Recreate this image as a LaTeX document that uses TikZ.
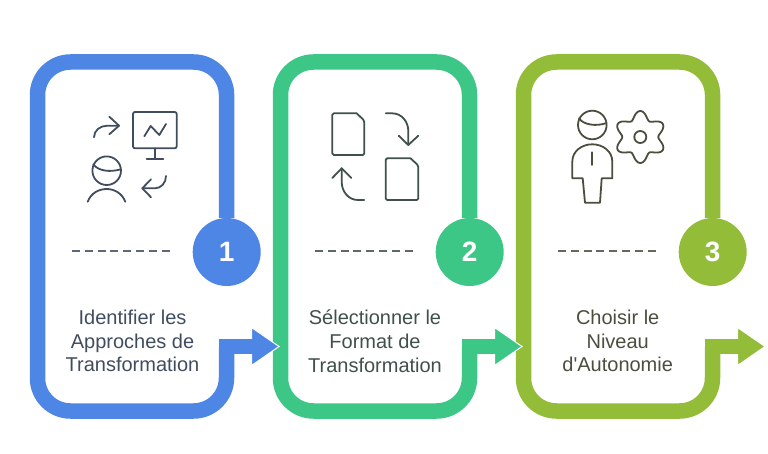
\documentclass[tikz,border=0pt]{standalone}
\usepackage{fontspec}
\setmainfont[Ligatures = TeXOff]{Liberation Sans}
\definecolor{stepblue}{HTML}{4D86E5}
\definecolor{stepgreen}{HTML}{3DC787}
\definecolor{stepolive}{HTML}{93BC39}
\definecolor{inkblue}{HTML}{414D5E}
\definecolor{inkgreen}{HTML}{40504B}
\definecolor{inkolive}{HTML}{4A4E3F}
\tikzset{
  ring/.style = {line width = 15.5pt, rounded corners = 33pt},
  badge/.style = {circle, minimum size = 68pt, inner sep = 0pt, text = white, font = \fontsize{28}{28}\selectfont\bfseries},
  arrowhead/.style = {draw = white, line width = 1pt},
  dashrule/.style = {line width = 1.5pt, dash pattern = on 8pt off 4.8pt},
  steptext/.style = {align = center, font = \fontsize{20}{23.8}\selectfont},
  iconline/.style = {line width = 1.8pt, line cap = round, line join = round}
}
\begin{document}
\begin{tikzpicture}[x = 1pt, y = -1pt]
\useasboundingbox (0, 0) rectangle (768, 454);
% panel 3
\node [badge, fill = stepolive] (numc) at (712.7, 252) {3};
\fill [arrowhead, fill = stepolive] (737.5, 327.5) -- (765, 346.5) -- (737.5, 365.5) -- cycle;
\draw [ring, color = stepolive] (numc.north) -- (712.5, 62) -- (523.5, 62) -- (523.5, 411) -- (712.5, 411) -- (712.5, 346.5);
\fill [color = stepolive] (704.75, 338.75) rectangle (739, 354.25);
% panel 2
\node [badge, fill = stepgreen] (numb) at (469.7, 252) {2};
\fill [arrowhead, fill = stepgreen] (494.5, 327.5) -- (522, 346.5) -- (494.5, 365.5) -- cycle;
\draw [ring, color = stepgreen] (numb.north) -- (469.5, 62) -- (280.5, 62) -- (280.5, 411) -- (469.5, 411) -- (469.5, 346.5);
\fill [color = stepgreen] (461.75, 338.75) rectangle (496, 354.25);
% panel 1
\node [badge, fill = stepblue] (numa) at (226.7, 252) {1};
\fill [arrowhead, fill = stepblue] (251.5, 327.5) -- (279, 346.5) -- (251.5, 365.5) -- cycle;
\draw [ring, color = stepblue] (numa.north) -- (226.5, 62) -- (37.5, 62) -- (37.5, 411) -- (226.5, 411) -- (226.5, 346.5);
\fill [color = stepblue] (218.75, 338.75) rectangle (253, 354.25);
% dashes
\draw [dashrule, color = inkblue!85] (72, 251) -- (170, 251);
\draw [dashrule, color = inkgreen!85] (315, 251) -- (413, 251);
\draw [dashrule, color = inkolive!85] (558, 251) -- (656, 251);
% labels
\node [steptext, color = inkblue] (texta) at (132.5, 341) {Identifier les\\Approches de\\Transformation};
\node [steptext, color = inkgreen] (textb) at (375, 341) {Sélectionner le\\Format de\\Transformation};
\node [steptext, color = inkolive] (textc) at (617.7, 341) {Choisir le\\Niveau\\d'Autonomie};
% icon 1
\begin{scope}[iconline, color = inkblue]
\draw (94, 137.3) .. controls (94, 130.5) and (100, 125.7) .. (107.3, 125.7) -- (119, 125.7);
\draw (109.3, 116.7) -- (119, 125.7) -- (109.3, 134.3);
\draw [rounded corners = 2pt] (133, 112) rectangle (176.7, 148.3);
\draw (155, 148.3) -- (155, 159.3);
\draw (146.7, 159.3) -- (163.3, 159.3);
\draw (144.3, 136.3) -- (150.7, 126) -- (159.3, 135) -- (166, 124);
\draw (106.7, 170.7) circle (14.3pt);
\draw (93.3, 164.3) .. controls (98, 171) and (110, 172.5) .. (120.7, 169.3);
\draw (87.7, 201.7) .. controls (91, 193) and (99, 189) .. (106.7, 189) .. controls (114, 189) and (122, 193) .. (125.3, 201.7);
\draw (166, 176) .. controls (166, 183) and (161, 188.3) .. (155, 188.3) -- (142.3, 188.3);
\draw (151, 179.3) -- (142.3, 188.3) -- (151, 197.3);
\end{scope}
% icon 2
\begin{scope}[iconline, color = inkgreen]
\draw [rounded corners = 1.5pt] (356.7, 113.3) -- (332.3, 113.3) -- (332.3, 155) -- (364.3, 155) -- (364.3, 120.7) [sharp corners] -- cycle;
\draw [rounded corners = 1.5pt] (410.5, 158.3) -- (385.7, 158.3) -- (385.7, 200) -- (418.3, 200) -- (418.3, 165.5) [sharp corners] -- cycle;
\draw (385.7, 113.3) -- (392, 113.3) .. controls (402, 113.3) and (408.3, 122) .. (408.3, 131) -- (408.3, 145);
\draw (398.7, 135.7) -- (408.3, 145) -- (418.3, 135.7);
\draw (364.3, 200) -- (358, 200) .. controls (348, 200) and (341.7, 191) .. (341.7, 182) -- (341.7, 168.3);
\draw (332.3, 178) -- (341.7, 168.3) -- (351.3, 178);
\end{scope}
% icon 3
\begin{scope}[iconline, color = inkolive]
\draw (592.3, 125) circle (14.3pt);
\draw (579, 118.3) .. controls (583.5, 125) and (596, 126.5) .. (605.7, 123.3);
\draw (572.3, 178.3) -- (572.3, 161.7) .. controls (572.3, 151) and (582, 144.3) .. (592.3, 144.3) .. controls (602.6, 144.3) and (612.3, 151) .. (612.3, 161.7) -- (612.3, 178.3) -- (601.7, 178.3) -- (600, 202.7) -- (585, 202.7) -- (582.7, 178.3) -- cycle;
\draw (592.3, 152.3) -- (592.3, 165);
\draw (640.3, 137) circle (6pt);
\draw [domain = 0:360, samples = 121, smooth] plot ({640.3 + (22 + 4*cos(6*\x))*sin(\x)}, {137 - (22 + 4*cos(6*\x))*cos(\x)}) -- cycle;
\end{scope}
\end{tikzpicture}
\end{document}
